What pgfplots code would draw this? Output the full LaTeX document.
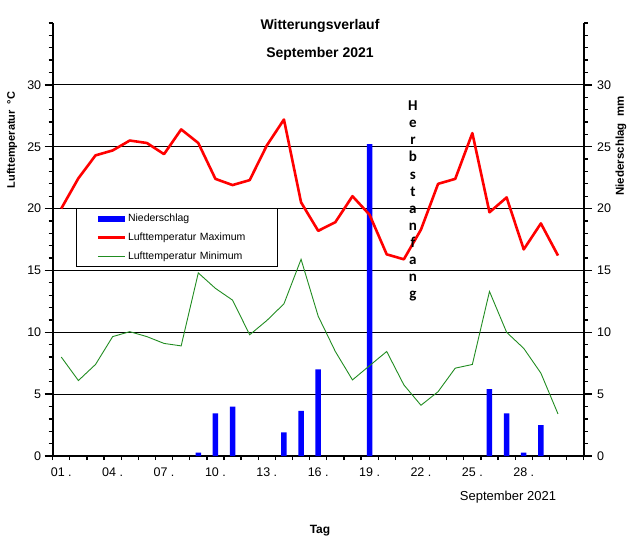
\documentclass[border=0pt]{standalone}
\usepackage{fontspec}
\setmainfont{Liberation Sans}
\newfontfamily\herbst{Carlito}
\usepackage{pgfplots}
\pgfplotsset{compat=1.18}
\definecolor{tgreen}{rgb}{0.13,0.55,0.13}

\begin{document}
\begin{tikzpicture}
\path[use as bounding box] (0pt,0pt) rectangle (633pt,-551pt);
% left axis: temperatures and precipitation bars
\begin{axis}[
  at={(52.7pt,-456pt)}, anchor=south west,
  scale only axis, width=531pt, height=433pt,
  xmin=0.5, xmax=31.5, ymin=0, ymax=35,
  axis x line*=bottom, axis y line*=left,
  axis line style={line width=2.2pt,-},
  xtick={1,4,7,10,13,16,19,22,25,28},
  xticklabels={01 .,04 .,07 .,10 .,13 .,16 .,19 .,22 .,25 .,28 .},
  minor xtick={0.5,1.5,...,31.5},
  ytick={0,5,...,30},
  minor ytick={1,...,35},
  tick align=outside,
  major tick length=8pt, minor tick length=4pt,
  tick style={black, line width=1.3pt},
  major x tick style={draw=none},
  ymajorgrids, grid style={black, line width=0.9pt},
  /pgf/number format/assume math mode=true,
  ticklabel style={font=\fontsize{12.5}{14}\selectfont},
  legend image code/.code={\draw[#1] (0pt,0pt) -- (27pt,0pt);},
  legend style={at={(0.044,0.573)}, anchor=north west, draw=black, line width=0.8pt,
    fill=white, inner xsep=20pt, inner ysep=4pt, row sep=5.5pt,
    font=\fontsize{10.5}{12}\selectfont, text width=127pt},
  legend cell align=left,
]
\addplot[ybar, bar width=5.5pt, fill=blue, draw=none,
  legend image code/.code={\fill[blue] (0pt,-2.8pt) rectangle (27pt,2.8pt);}]
  coordinates {(9,0.27)(10,3.45)(11,4.0)(14,1.9)(15,3.65)(16,7.0)(19,25.2)
               (26,5.4)(27,3.45)(28,0.27)(29,2.5)};
\addlegendentry{Niederschlag}
\addplot[red, line width=2.6pt, line join=round] coordinates {
  (1,20.0)(2,22.45)(3,24.3)(4,24.7)(5,25.5)(6,25.3)(7,24.4)(8,26.4)(9,25.3)(10,22.4)
  (11,21.9)(12,22.3)(13,25.1)(14,27.2)(15,20.5)(16,18.2)(17,18.9)(18,21.0)(19,19.5)(20,16.3)
  (21,15.9)(22,18.3)(23,22.0)(24,22.4)(25,26.1)(26,19.7)(27,20.9)(28,16.7)(29,18.8)(30,16.2)};
\addlegendentry{Lufttemperatur Maximum}
\addplot[tgreen, line width=0.9pt] coordinates {
  (1,8.0)(2,6.1)(3,7.4)(4,9.65)(5,10.05)(6,9.65)(7,9.1)(8,8.9)(9,14.8)(10,13.55)
  (11,12.6)(12,9.8)(13,10.95)(14,12.3)(15,15.9)(16,11.3)(17,8.45)(18,6.15)(19,7.3)(20,8.45)
  (21,5.75)(22,4.1)(23,5.2)(24,7.1)(25,7.4)(26,13.3)(27,10.0)(28,8.7)(29,6.7)(30,3.4)};
\addlegendentry{Lufttemperatur Minimum}
\node[font=\herbst\bfseries\fontsize{15}{17.1}\selectfont, align=center]
  at (axis cs:21.53,20.6) {H\\e\\r\\b\\s\\t\\a\\n\\f\\a\\n\\g};
\end{axis}
% right axis: precipitation scale
\begin{axis}[
  at={(52.7pt,-456pt)}, anchor=south west,
  scale only axis, width=531pt, height=433pt,
  xmin=0.5, xmax=31.5, ymin=0, ymax=35,
  axis x line=none, axis y line*=right,
  axis line style={line width=2.2pt,-},
  ytick={0,5,...,30},
  minor ytick={1,...,35},
  tick align=outside,
  major tick length=8pt, minor tick length=4pt,
  tick style={black, line width=1.3pt},
  /pgf/number format/assume math mode=true,
  ticklabel style={font=\fontsize{12.5}{14}\selectfont, xshift=2pt},
]
\end{axis}
\node[font=\bfseries\fontsize{14}{16}\selectfont] at (320pt,-26pt) {Witterungsverlauf};
\node[font=\bfseries\fontsize{14}{16}\selectfont] at (320pt,-54pt) {September 2021};
\node[rotate=90, font=\bfseries\fontsize{11}{13}\selectfont] at (12pt,-140pt) {Lufttemperatur\ \ °C};
\node[rotate=90, font=\bfseries\fontsize{11.5}{13}\selectfont] at (621pt,-146pt) {Niederschlag\ \ mm};
\node[font=\fontsize{13}{15}\selectfont] at (508pt,-497pt) {September 2021};
\node[font=\bfseries\fontsize{12}{14}\selectfont] at (320pt,-531pt) {Tag};
\end{tikzpicture}
\end{document}
